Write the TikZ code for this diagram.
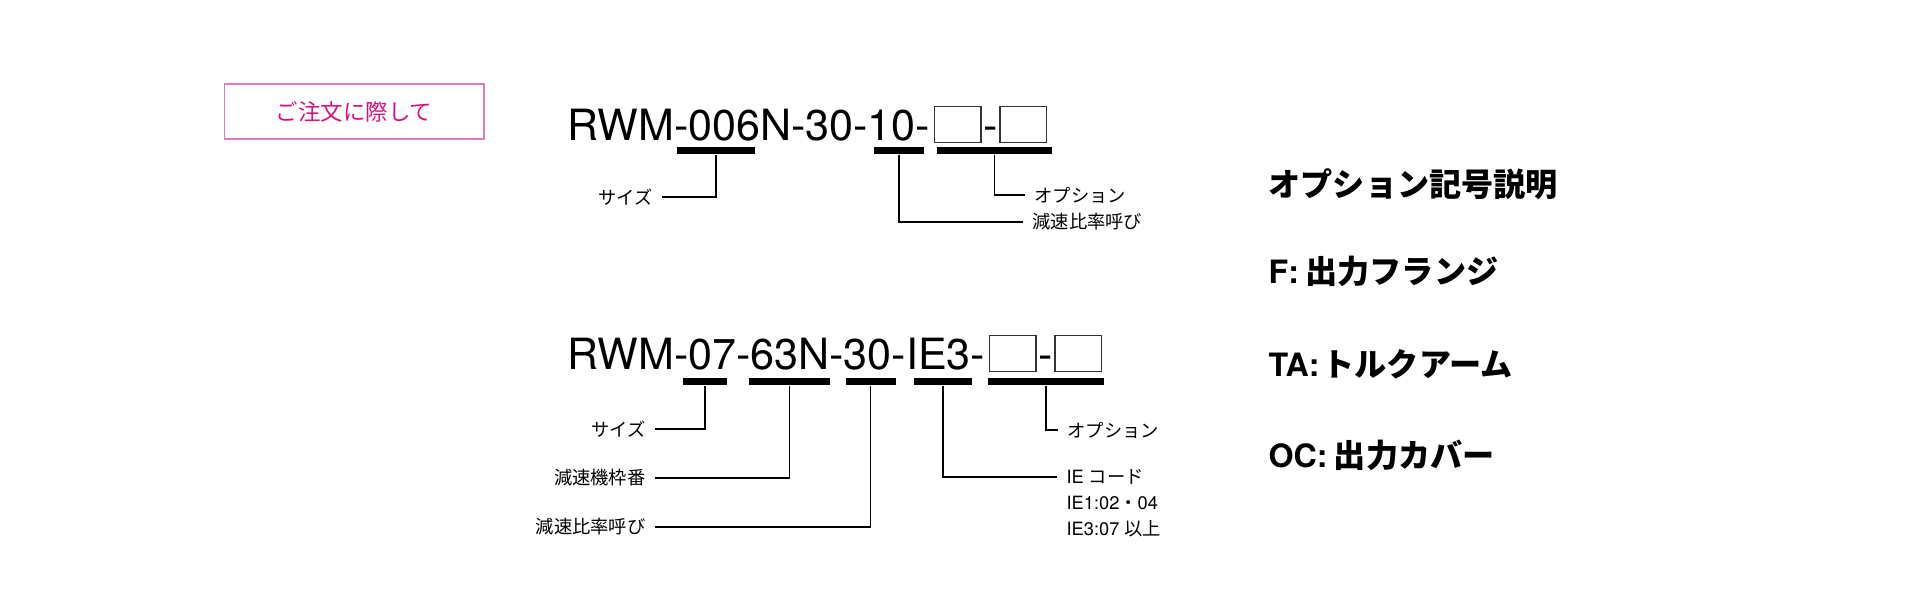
\documentclass[tikz,border=0pt]{standalone}
\usepackage{fontspec}
\setmainfont{TeX Gyre Heros}
\newfontfamily\jp{Noto Sans CJK JP}
\usetikzlibrary{positioning}
\definecolor{ordermag}{HTML}{D6127F}
\definecolor{orderframe}{HTML}{E07CBD}

\begin{document}
\begin{tikzpicture}[x=0.02cm, y=-0.02cm, line width=0.7pt,
  code/.style={anchor=base west, inner sep=0pt, text height=0.62cm, text depth=0pt,
    font=\fontsize{24.5}{29}\selectfont},
  slot/.style={draw=black!80, line width=0.8pt, minimum width=0.93cm,
    minimum height=0.71cm, inner sep=0pt},
  bar/.style={fill=black, inner sep=0pt, minimum height=0.14cm},
  lab/.style={inner sep=0.18cm, font=\fontsize{10.4}{12}\selectfont},
  opt/.style={anchor=west, inner sep=0pt, font=\bfseries\fontsize{18.3}{22}\selectfont}]
  \useasboundingbox (0,0) rectangle (1920,600);
  % 注文ボタン
  \node[draw=orderframe, line width=0.6pt, minimum width=5.2cm, minimum height=1.1cm,
    text=ordermag, font=\jp\fontsize{12.8}{15}\selectfont] (order) at (354,111.5) {ご注文に際して};
  % 形式 1
  \node[code] (c1) at (567,140) {RWM-006N-30-10-};
  \node[slot, right=0.06cm of c1] (s1a) {};
  \node[code, right=0.02cm of s1a] (h1) {-};
  \node[slot, right=0.02cm of h1] (s1b) {};
  \node[bar, minimum width=1.56cm] (b1size) at (716,150.5) {};
  \node[bar, minimum width=1.00cm] (b1ratio) at (899,150.5) {};
  \node[bar, minimum width=2.30cm] (b1opt) at (994.5,150.5) {};
  \node[lab, anchor=east] (l1size) at (662,197) {\jp サイズ};
  \node[lab, anchor=west] (l1opt) at (1025,195) {\jp オプション};
  \node[lab, anchor=west] (l1ratio) at (1023,222) {\jp 減速比率呼び};
  \draw (b1size) |- (l1size);
  \draw (b1opt) |- (l1opt);
  \draw (b1ratio) |- (l1ratio);
  % 形式 2
  \node[code] (c2) at (567,369) {RWM-07-63N-30-IE3-};
  \node[slot, right=0.06cm of c2] (s2a) {};
  \node[code, right=0.02cm of s2a] (h2) {-};
  \node[slot, right=0.02cm of h2] (s2b) {};
  \node[bar, minimum width=0.88cm] (b2size) at (705,381.5) {};
  \node[bar, minimum width=1.62cm] (b2frame) at (789.5,381.5) {};
  \node[bar, minimum width=1.00cm] (b2ratio) at (870.5,381.5) {};
  \node[bar, minimum width=1.16cm] (b2ie) at (943,381.5) {};
  \node[bar, minimum width=2.32cm] (b2opt) at (1046,381.5) {};
  \node[lab, anchor=east] (l2size) at (655,429) {\jp サイズ};
  \node[lab, anchor=east] (l2frame) at (655,478) {\jp 減速機枠番};
  \node[lab, anchor=east] (l2ratio) at (655,527) {\jp 減速比率呼び};
  \node[lab, anchor=west] (l2opt) at (1058,430) {\jp オプション};
  \node[lab, anchor=west] (l2ie) at (1057,477) {IE {\jp コード}};
  \node[lab, anchor=west] (l2ie1) at (1057,503) {IE1:02{\jp ・}04};
  \node[lab, anchor=west] (l2ie3) at (1057,529) {IE3:07 {\jp 以上}};
  \draw (b2size) |- (l2size);
  \draw (b2frame) |- (l2frame);
  \draw (b2ratio) |- (l2ratio);
  \draw (b2ie) |- (l2ie);
  \draw (b2opt) |- (l2opt);
  % オプション記号
  \node[opt] (otitle) at (1268,184) {\jp オプション記号説明};
  \node[opt] (of) at (1268,271) {F:\hspace{0.2em}{\jp 出力フランジ}};
  \node[opt] (ota) at (1268,364) {TA:\hspace{0.1em}{\jp トルクアーム}};
  \node[opt] (ooc) at (1268,455) {OC:\hspace{0.2em}{\jp 出力カバー}};
\end{tikzpicture}
\end{document}
